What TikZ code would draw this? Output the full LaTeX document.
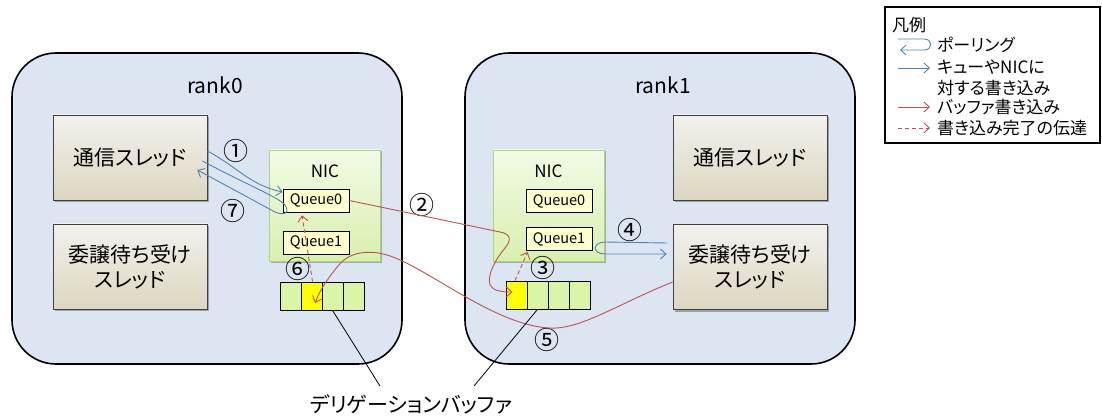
\documentclass[tikz,border=0pt]{standalone}
\usepackage{fontspec}
\setmainfont{Noto Sans CJK JP}[RawFeature=+palt]
\usetikzlibrary{arrows.meta,shadows}

\definecolor{rankbg}{HTML}{DCE6F2}
\definecolor{thrtop}{HTML}{F2F1EC}
\definecolor{thrbot}{HTML}{DCD7C0}
\definecolor{thrborder}{HTML}{404040}
\definecolor{nictop}{HTML}{F3FAE6}
\definecolor{nicbot}{HTML}{D8F0AE}
\definecolor{nicborder}{HTML}{B0D47A}
\definecolor{queuefill}{HTML}{FFFFCC}
\definecolor{cellgreen}{HTML}{D9F5A6}
\definecolor{hotcell}{HTML}{FFFF00}
\definecolor{bluec}{HTML}{4F81BD}
\definecolor{redc}{HTML}{C0504D}

\newcommand{\jpmain}{\fontsize{21}{25}\selectfont}
\newcommand{\jpleg}{\fontsize{17}{20}\selectfont}

\begin{document}
\begin{tikzpicture}[x=1pt,y=1pt,
  rankbox/.style={draw=black, line width=1.6pt, fill=rankbg, rounded corners=44pt,
    minimum width=390pt, minimum height=311pt},
  ranklabel/.style={font=\jpmain, inner sep=0pt},
  thread/.style={draw=thrborder, line width=0.8pt, top color=thrtop, bottom color=thrbot,
    minimum width=154pt, minimum height=85pt, align=center, font=\jpmain,
    drop shadow={shadow xshift=2pt, shadow yshift=-2pt, opacity=0.3, fill=black}},
  nicbox/.style={draw=nicborder, line width=0.8pt, top color=nictop, bottom color=nicbot,
    minimum width=111pt, minimum height=111pt,
    drop shadow={shadow xshift=1.5pt, shadow yshift=-1.5pt, opacity=0.25, fill=black}},
  niclabel/.style={font=\fontsize{17}{20}\selectfont, inner sep=0pt},
  queue/.style={draw=black, line width=0.8pt, fill=queuefill, minimum width=66pt,
    minimum height=23pt, inner sep=0pt, font=\fontsize{14.5}{16}\selectfont},
  cell/.style={draw=black, line width=0.8pt, fill=cellgreen, minimum width=21pt,
    minimum height=28pt, inner sep=0pt},
  hot/.style={fill=hotcell},
  num/.style={font=\fontsize{25}{28}\selectfont, inner sep=0pt},
  tipstyle/.style={-{Straight Barb[length=5.5pt,width=10pt]}},
  bluearr/.style={draw=bluec, line width=0.9pt, tipstyle},
  redarr/.style={draw=redc, line width=0.9pt, tipstyle},
  reddash/.style={redarr, dash pattern=on 4pt off 3pt},
  pointer/.style={draw=black, line width=0.8pt},
  legbox/.style={draw=black, line width=1.6pt, fill=white, minimum width=215pt, minimum height=136pt},
  legtext/.style={font=\jpleg, inner sep=0pt, anchor=west}
]
\useasboundingbox (0,0) rectangle (1102,418);
\fill[white] (0,0) rectangle (1102,418);

% process boxes
\node[rankbox] (rank0) at (207,209.5) {};
\node[rankbox] (rank1) at (660,209.5) {};
\node[ranklabel] (rank0lbl) at (215,333) {rank0};
\node[ranklabel] (rank1lbl) at (663,333) {rank1};

% threads
\node[thread] (t0a) at (130,260.5) {通信スレッド};
\node[thread] (t0b) at (130,151.5) {委譲待ち受け\\スレッド};
\node[thread] (t1a) at (750,260.5) {通信スレッド};
\node[thread] (t1b) at (750,151) {委譲待ち受け\\スレッド};

% NICs with queues
\node[nicbox] (nic0) at (325,212.5) {};
\node[niclabel] (nic0lbl) at (325,247) {NIC};
\node[queue] (q00) at (316,217.5) {Queue0};
\node[queue] (q01) at (316,175.5) {Queue1};

\node[nicbox] (nic1) at (548.5,212.5) {};
\node[niclabel] (nic1lbl) at (548.5,247) {NIC};
\node[queue] (q10) at (559,217) {Queue0};
\node[queue] (q11) at (559,179) {Queue1};

% delegation buffers
\node[cell] (b00) at (290.5,122) {};
\node[cell,hot] (b01) at (311.5,122) {};
\node[cell] (b02) at (332.5,122) {};
\node[cell] (b03) at (353.5,122) {};

\node[cell,hot] (b10) at (516.5,123) {};
\node[cell] (b11) at (537.5,123) {};
\node[cell] (b12) at (558.5,123) {};
\node[cell] (b13) at (579.5,123) {};

% step numbers
\node[num] (n1) at (236,267) {①};
\node[num] (n2) at (422,213) {②};
\node[num] (n3) at (543,150) {③};
\node[num] (n4) at (630,188) {④};
\node[num] (n5) at (547,78) {⑤};
\node[num] (n6) at (298,149) {⑥};
\node[num] (n7) at (233,207) {⑦};

% (1) write to Queue0
\draw[bluearr] ([yshift=6.5pt]t0a.east) to[out=-28,in=168] ([yshift=8.5pt]q00.west);
% (7) polling of Queue0
\draw[bluearr] ([xshift=-5pt,yshift=-3.5pt]t0a.east)
  .. controls (255,229) and (286,218) .. ([xshift=4pt,yshift=-7.5pt]q00.west)
  .. controls (288,203) and (283,203) .. (275,206)
  -- ([xshift=-10pt,yshift=-12.5pt]t0a.east);
% (2) remote write into the rank1 buffer
\draw[redarr] (q00.east) -- (500,186)
  .. controls (512,184) and (511,177) .. (505,170)
  .. controls (495,158) and (487,143) .. (490,133)
  .. controls (493,127) and (502,126) .. ([xshift=-4pt,yshift=3pt]b10.center);
% (3) completion notice to Queue1
\draw[reddash] ([xshift=-1.5pt]b10.north) -- ([xshift=2pt,yshift=-1pt]q11.south west);
% (4) polling of Queue1
\draw[bluearr] ([xshift=-6pt,yshift=24pt]t1b.west) -- ([xshift=13pt,yshift=-3pt]q11.east)
  .. controls (592,176) and (592,164) .. (605,164)
  -- ([xshift=-6pt,yshift=13pt]t1b.west);
% (5) write back into the rank0 buffer
\draw[redarr] ([yshift=-15pt]t1b.west)
  .. controls (620,115) and (580,88) .. (550,90)
  .. controls (500,92) and (440,140) .. (400,158)
  .. controls (375,170) and (350,168) .. (338,152)
  .. controls (328,140) and (320,128) .. ([xshift=3.5pt,yshift=-7pt]b01.center);
% (6) completion notice to Queue0
\draw[reddash] ([xshift=1pt]b01.north) -- ([xshift=-14pt,yshift=-3pt]q00.south);

% buffer caption
\node[font=\jpmain, inner sep=0pt] (dbuf) at (411,14) {デリゲーションバッファ};
\coordinate (p0) at (380,32);
\coordinate (p1) at (474,32);
\draw[pointer] (b02.south) -- (p0);
\draw[pointer] (b11.south) -- (p1);

% legend
\node[legbox] (leg) at (992.5,343) {};
\node[legtext] (legtitle) at (892,393) {凡例};
\draw[bluearr] (898,379) -- (924,379) .. controls (933,379) and (933,368) .. (924,368) -- (900,368);
\node[legtext] (l1) at (937,373) {ポーリング};
\draw[bluearr] (898,350) -- (930,350);
\node[legtext] (l2) at (937,351) {キューやNICに};
\node[legtext] (l3) at (937,330) {対する書き込み};
\draw[redarr] (898,311) -- (930,311);
\node[legtext] (l4) at (937,311) {バッファ書き込み};
\draw[reddash] (898,290) -- (930,290);
\node[legtext] (l5) at (937,290) {書き込み完了の伝達};
\end{tikzpicture}
\end{document}
